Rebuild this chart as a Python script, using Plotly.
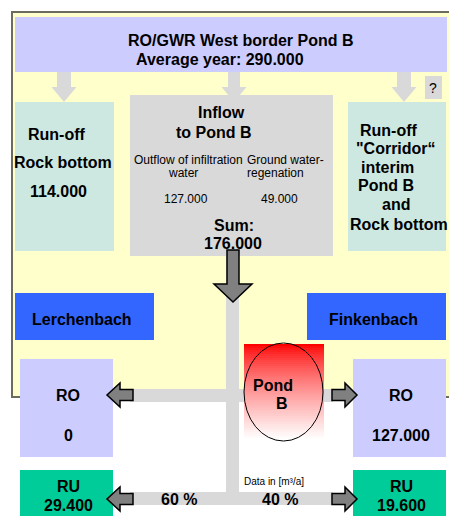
import plotly.graph_objects as go

# ---------------- data ----------------
title_line = "RO/GWR West border Pond B"
average_year = 290000
runoff_rock_bottom = 114000
inflow_labels = ["Outflow of infiltration", "water", "Ground water-", "regenation"]
inflow_values = [127000, 49000]
inflow_sum = 176000
corridor_lines = ["Run-off", "\"Corridor\u201c", "interim", "Pond B", "and", "Rock bottom"]
streams = ["Lerchenbach", "Finkenbach"]
ro_values = [0, 127000]
ru_values = [29400, 19600]
split_pct = [60, 40]
units_note = "Data in [m\u00b3/a]"


def fmt(v):
    return f"{v:,}".replace(",", ".")


W, H = 449, 516
FONT = "Liberation Sans, Arial, sans-serif"

PURPLE = "#ccccff"
YELLOW = "#ffffcc"
TEAL = "#cce8e0"
LGRAY = "#d9d9d9"
DGRAY = "#808080"
BLUE = "#3366ff"
GREEN = "#00cc99"

shapes = []


def rect(x0, y0, x1, y1, fill, line=None, lw=0):
    shapes.append(dict(type="rect", xref="x", yref="y", x0=x0, y0=y0, x1=x1, y1=y1,
                       fillcolor=fill, line=dict(color=line or fill, width=lw)))


def poly(pts, fill, line=None, lw=0):
    d = "M " + " L ".join(f"{x},{y}" for x, y in pts) + " Z"
    shapes.append(dict(type="path", xref="x", yref="y", path=d, fillcolor=fill,
                       line=dict(color=line or fill, width=lw)))


def down_arrow(cx, y0, yh, ytip, sw, hw, fill, line=None, lw=0):
    poly([(cx - sw / 2, y0), (cx + sw / 2, y0), (cx + sw / 2, yh), (cx + hw / 2, yh),
          (cx, ytip), (cx - hw / 2, yh), (cx - sw / 2, yh)], fill, line, lw)


def h_arrow(xtail, xhead, xtip, cy, sh, hh, fill, line="black", lw=1.5):
    poly([(xtail, cy - sh / 2), (xhead, cy - sh / 2), (xhead, cy - hh / 2), (xtip, cy),
          (xhead, cy + hh / 2), (xhead, cy + sh / 2), (xtail, cy + sh / 2)], fill, line, lw)


# panel
rect(12, 12, 452, 397, YELLOW, "#6b6b5e", 2)
# top box
rect(15, 17, 447, 72, PURPLE)
# light gray arrows from the top
down_arrow(64, 72, 87, 102, 14, 25, LGRAY)
down_arrow(234, 72, 87, 102, 12, 25, LGRAY)
down_arrow(404, 72, 87, 102, 14, 25, LGRAY)
# question box
rect(425, 76, 442, 99, LGRAY)
# side and centre boxes
rect(15, 102, 114, 251, TEAL)
rect(130, 95, 333, 256, LGRAY)
rect(348, 102, 446, 251, TEAL)
# stream boxes
rect(15, 293, 154, 340, BLUE)
rect(307, 293, 446, 340, BLUE)
# light gray flow bars
rect(226, 256, 239, 505, LGRAY)
rect(130, 389, 333, 402, LGRAY)
rect(130, 492, 333, 505, LGRAY)
# RO and RU boxes
rect(20, 359, 113, 457, PURPLE)
rect(353, 359, 446, 457, PURPLE)
rect(20, 470, 113, 520, GREEN)
rect(353, 470, 446, 520, GREEN)
# gradient pond background
g0, g1 = 344, 440
n = 48
for i in range(n):
    t = i / (n - 1)
    c = int(round(255 * t ** 0.75))
    ya = g0 + (g1 - g0) * i / n
    yb = g0 + (g1 - g0) * (i + 1) / n + 0.6
    rect(244, ya, 324, min(yb, g1), f"rgb(255,{c},{c})")
shapes.append(dict(type="circle", xref="x", yref="y", x0=244, y0=343, x1=323, y1=441,
                   line=dict(color="black", width=1), fillcolor="rgba(0,0,0,0)"))
# dark gray arrows
down_arrow(233, 250, 284, 302, 12, 38, DGRAY, "black", 1.5)
h_arrow(133, 120, 107, 395, 11, 24, DGRAY)
h_arrow(332, 345, 357, 395, 11, 24, DGRAY)
h_arrow(133, 120, 107, 499, 11, 24, DGRAY)
h_arrow(332, 345, 357, 499, 11, 24, DGRAY)

annotations = []


def txt(x, y, s, size=16, bold=True):
    annotations.append(dict(x=x, y=y, xref="x", yref="y", text=f"<b>{s}</b>" if bold else s,
                            showarrow=False, xanchor="center", yanchor="middle",
                            font=dict(family=FONT, size=size, color="black")))


txt(240, 40, title_line)
txt(220, 59, f"Average year: {fmt(average_year)}")
txt(433, 88, "?", 14, False)

txt(57, 134, "Run-off")
txt(63, 162, "Rock bottom")
txt(58, 191, fmt(runoff_rock_bottom))

txt(221, 112, "Inflow")
txt(214, 132, "to Pond B")
txt(188, 160, inflow_labels[0], 12, False)
txt(183, 173, inflow_labels[1], 12, False)
txt(285, 160, inflow_labels[2], 12, False)
txt(275, 173, inflow_labels[3], 12, False)
txt(186, 199, fmt(inflow_values[0]), 12, False)
txt(279, 199, fmt(inflow_values[1]), 12, False)
txt(234, 225, "Sum:")
txt(233, 243, fmt(inflow_sum))

for (cx, cy), s in zip([(389, 130), (396, 148), (387, 167), (386, 185), (396, 204), (399, 224)],
                       corridor_lines):
    txt(cx, cy, s)

txt(82, 319, streams[0])
txt(373, 319, streams[1])

txt(273, 385, "Pond")
txt(282, 403, "B")

txt(68, 395, "RO")
txt(68, 435, fmt(ro_values[0]))
txt(401, 395, "RO")
txt(401, 435, fmt(ro_values[1]))

txt(68, 486, "RU")
txt(68, 505, fmt(ru_values[0]))
txt(401, 486, "RU")
txt(401, 505, fmt(ru_values[1]))

txt(179, 499, f"{split_pct[0]} %")
txt(280, 499, f"{split_pct[1]} %")
txt(274, 481, units_note, 10, False)

fig = go.Figure()
fig.update_layout(
    width=W, height=H,
    margin=dict(l=0, r=0, t=0, b=0),
    paper_bgcolor="white", plot_bgcolor="white",
    xaxis=dict(range=[0, W], visible=False, fixedrange=True),
    yaxis=dict(range=[H, 0], visible=False, fixedrange=True),
    shapes=shapes, annotations=annotations, showlegend=False,
)
fig.write_html("out.html", config={"displayModeBar": False},
               post_script="document.body.style.margin='0';document.body.style.overflow='hidden';")
